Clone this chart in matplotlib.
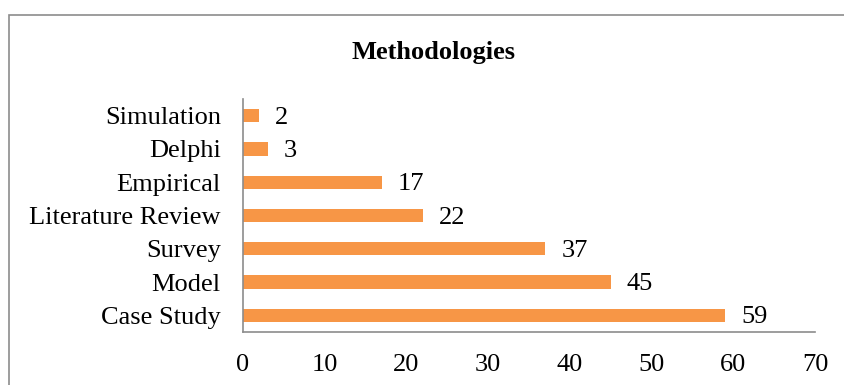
import matplotlib
matplotlib.use("Agg")
import matplotlib.pyplot as plt
from matplotlib.patches import Rectangle

categories = ["Case Study", "Model", "Survey", "Literature Review",
              "Empirical", "Delphi", "Simulation"]
counts = [59, 45, 37, 22, 17, 3, 2]
x_ticks = [0, 10, 20, 30, 40, 50, 60, 70]

plt.rcParams["font.family"] = ["Liberation Serif", "DejaVu Serif"]

W, H = 844, 385
fig = plt.figure(figsize=(W / 100, H / 100), dpi=100)

# chart frame (runs past the right and bottom edges)
fig.patches.append(Rectangle((9 / W, -0.1), 1.2, (H - 15) / H + 0.1,
                             transform=fig.transFigure, fill=False,
                             edgecolor="#8c8c8c", linewidth=1.2))

ax = fig.add_axes([243 / W, 1 - 332 / H, (815 - 243) / W, (332 - 99) / H])
ypos = range(len(categories))
ax.barh(ypos, counts, height=0.4, color="#F79646")
for y, v in zip(ypos, counts):
    ax.annotate(str(v), (v, y), xytext=(11.5, -1.5), textcoords="offset points",
                ha="left", va="center", fontsize=19)

ax.set_xlim(0, 70)
ax.set_ylim(-0.5, len(categories) - 0.5)
ax.set_xticks(x_ticks)
ax.set_yticks(list(ypos))
ax.set_yticklabels(categories)
ax.tick_params(axis="both", length=0, labelsize=19)
ax.tick_params(axis="x", pad=16)
ax.tick_params(axis="y", pad=16)
for s in ["top", "right"]:
    ax.spines[s].set_visible(False)
for s in ["left", "bottom"]:
    ax.spines[s].set_color("#8c8c8c")
    ax.spines[s].set_linewidth(1.2)

fig.text(433 / W, 1 - 53 / H, "Methodologies", ha="center", va="center",
         fontsize=19, fontweight="bold")

fig.savefig("out.png", dpi=100)
